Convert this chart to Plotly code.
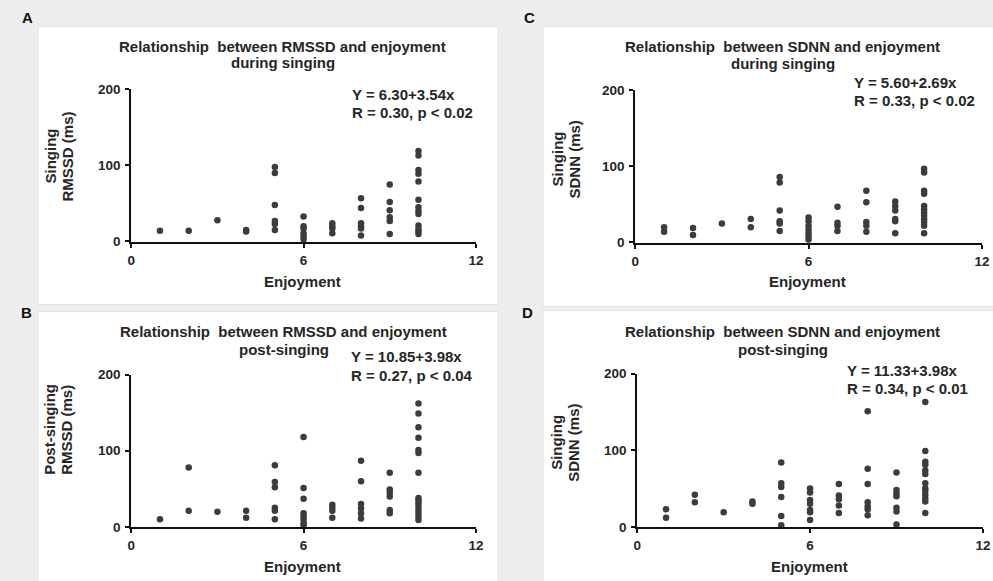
import plotly.graph_objects as go

W, H = 993, 581

enjoyment_levels = [1, 2, 3, 4, 5, 6, 7, 8, 9, 10]

rmssd_singing = [
    [14], [14], [28], [15, 13],
    [98, 90, 48, 27, 23, 15],
    [33, 20, 17, 11, 7, 3],
    [24, 20, 17, 11],
    [57, 44, 24, 20, 17, 8],
    [75, 52, 41, 32, 27, 10],
    [119, 113, 94, 89, 79, 55, 45, 40, 36, 21, 16, 13, 10],
]

rmssd_post = [
    [10], [78, 21], [20], [21, 12],
    [81, 59, 52, 25, 21, 10],
    [118, 51, 37, 18, 14, 10, 5, 2],
    [29, 25, 21, 12],
    [87, 60, 30, 24, 18, 11],
    [71, 49, 45, 40, 22, 18],
    [162, 149, 131, 117, 101, 97, 71, 38, 35, 31, 27, 22, 18, 13, 9],
]

sdnn_singing = [
    [20, 14], [19, 10], [25], [31, 20],
    [86, 79, 42, 28, 25, 15],
    [33, 28, 22, 17, 12, 8, 4],
    [47, 26, 22, 15],
    [68, 53, 27, 22, 14],
    [54, 48, 42, 31, 28, 12],
    [97, 92, 68, 64, 48, 43, 39, 35, 31, 27, 22, 12],
]

sdnn_post = [
    [23, 12], [42, 32], [19], [33, 30],
    [84, 57, 52, 39, 14, 2],
    [50, 45, 35, 30, 22, 19, 9],
    [56, 41, 36, 28, 18],
    [151, 76, 56, 32, 27, 23, 15],
    [71, 48, 44, 40, 25, 20, 3],
    [163, 99, 85, 81, 74, 69, 57, 50, 47, 42, 37, 33, 18],
]

panel_letters = ["A", "B", "C", "D"]
title_line1 = ["Relationship  between RMSSD and enjoyment",
               "Relationship  between RMSSD and enjoyment",
               "Relationship  between SDNN and enjoyment",
               "Relationship  between SDNN and enjoyment"]
title_line2 = ["during singing", "post-singing", "during singing", "post-singing"]
y_title_line1 = ["Singing", "Post-singing", "Singing", "Singing"]
y_title_line2 = ["RMSSD (ms)", "RMSSD (ms)", "SDNN (ms)", "SDNN (ms)"]
eq_line1 = ["Y = 6.30+3.54x", "Y = 10.85+3.98x", "Y = 5.60+2.69x", "Y = 11.33+3.98x"]
eq_line2 = ["R = 0.30, p < 0.02", "R = 0.27, p < 0.04", "R = 0.33, p < 0.02", "R = 0.34, p < 0.01"]
x_title = "Enjoyment"
x_ticks = [0, 6, 12]
y_ticks = [0, 100, 200]

series = [rmssd_singing, rmssd_post, sdnn_singing, sdnn_post]

# layout geometry (target pixels in the reference)
plot_boxes = [  # x0, x1, ytop, ybottom
    (131, 475, 90, 242),
    (131, 475, 375, 527),
    (634, 980, 91, 243),
    (636, 981, 374, 527),
]
panel_rects = [
    (38, 497, 27, 305),
    (38, 497, 312, 600),
    (542, 1010, 27, 307),
    (542, 1010, 311, 600),
]
letter_pos = [(27, 18), (26, 313), (528, 18), (526, 313)]
title_pos = [(282, 47, 63), (283, 332, 350), (781, 47, 64), (781, 332, 350)]
eq_pos = [(349, 95, 113), (348, 357, 376), (850, 83, 101), (843, 371, 389)]
ytitle_pos = [(50, 67, 157), (50, 67, 430), (556, 573, 160), (556, 573, 443)]
xtitle_pos = [(302, 282), (302, 567), (806, 282), (808, 567)]

FONT = "Liberation Sans, Arial, sans-serif"
TXT = "#262626"


def px(x):
    # compensate for the horizontal offset/scale observed in the rendering
    return ((x - 4) / 0.986) / W


def py(y):
    # compensate for the vertical offset/scale observed in the rendering
    yy = y / 0.973 - 8
    return 1 - yy / H


fig = go.Figure()
annotations = []
shapes = []


def label(text, x, y, size, xanchor="center", angle=0, color=TXT):
    annotations.append(dict(text="<b>%s</b>" % text, x=px(x), y=py(y),
                            xref="paper", yref="paper", showarrow=False,
                            xanchor=xanchor, yanchor="middle", textangle=angle,
                            font=dict(family=FONT, size=size, color=color)))


for i in range(4):
    xs, ys = [], []
    for lvl, vals in zip(enjoyment_levels, series[i]):
        for v in vals:
            xs.append(lvl)
            ys.append(v)
    suffix = "" if i == 0 else str(i + 1)
    fig.add_trace(go.Scatter(
        x=xs, y=ys, mode="markers",
        marker=dict(size=6.5, color="#3c3c3c"),
        xaxis="x" + suffix, yaxis="y" + suffix,
        cliponaxis=False, showlegend=False, hoverinfo="x+y",
    ))
    x0, x1, yt, yb = plot_boxes[i]
    common = dict(
        showline=True, linecolor="#111111", linewidth=2,
        showgrid=False, zeroline=False, ticks="outside", ticklen=4,
        tickwidth=1.5, tickcolor="#111111",
        tickfont=dict(family=FONT, size=13.5, color=TXT, weight="bold"),
        fixedrange=True,
    )
    fig.update_layout(**{
        "xaxis" + suffix: dict(domain=[px(x0), px(x1)], range=[0, 12],
                               tickvals=x_ticks, anchor="y" + suffix,
                               ticklabelstandoff=1, **common),
        "yaxis" + suffix: dict(domain=[py(yb), py(yt)], range=[0, 200],
                               tickvals=y_ticks, anchor="x" + suffix,
                               ticklabelstandoff=2, **common),
    })
    rx0, rx1, ry0, ry1 = panel_rects[i]
    shapes.append(dict(type="rect", xref="paper", yref="paper",
                       x0=px(rx0), x1=px(rx1), y0=py(ry1), y1=py(ry0),
                       fillcolor="white", line=dict(color="#e2e2e2", width=1),
                       layer="below"))
    lx, ly = letter_pos[i]
    label(panel_letters[i], lx, ly, 15, color="#111")
    tx, t1, t2 = title_pos[i]
    label(title_line1[i], tx, t1, 15)
    label(title_line2[i], tx, t2, 15)
    ex, e1, e2 = eq_pos[i]
    label(eq_line1[i], ex, e1, 15, xanchor="left")
    label(eq_line2[i], ex, e2, 15, xanchor="left")
    yx1, yx2, yy = ytitle_pos[i]
    label(y_title_line1[i], yx1, yy, 15, angle=-90)
    label(y_title_line2[i], yx2, yy, 15, angle=-90)
    xx, xy = xtitle_pos[i]
    label(x_title, xx, xy, 15)

fig.update_layout(
    width=W, height=H,
    margin=dict(l=0, r=0, t=0, b=0),
    paper_bgcolor="#eeeeee",
    plot_bgcolor="rgba(0,0,0,0)",
    shapes=shapes,
    annotations=annotations,
    showlegend=False,
)

fig.write_html("out.html")
